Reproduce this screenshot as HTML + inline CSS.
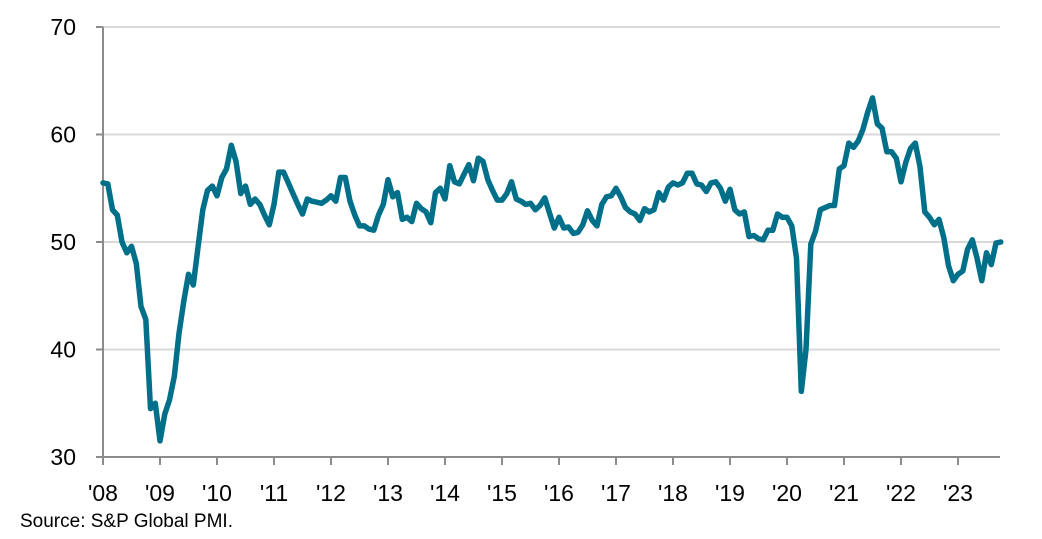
<!DOCTYPE html>
<html><head><meta charset="utf-8"><style>
html,body{margin:0;padding:0;background:#fff;}
svg{display:block;font-family:"Liberation Sans",sans-serif;}
</style></head><body>
<svg width="1042" height="539" id="chart">
<g id="grid"></g>
<g id="axes"></g>
<path id="line" fill="none" stroke="#00708a" stroke-width="5.5" stroke-linejoin="round" stroke-linecap="round"/>
<text x="20" y="527" font-size="19" fill="#000">Source: S&amp;P Global PMI.</text>
</svg>
<script>
const yTicks = [30, 40, 50, 60, 70];
const yearLabels = ["'08","'09","'10","'11","'12","'13","'14","'15","'16","'17","'18","'19","'20","'21","'22","'23"];
const pmi2008 = [55.5,55.4,53,52.5,50,49,49.6,48,44,42.8,34.5,35];
const pmi2009 = [31.5,34,35.3,37.5,41.5,44.5,47,46,49.5,53,54.8,55.2];
const pmi2010 = [54.3,56,56.8,59,57.5,54.5,55.2,53.5,54,53.5,52.5,51.6];
const pmi2011 = [53.5,56.5,56.5,55.5,54.5,53.5,52.6,54,53.8,53.7,53.6,53.9];
const pmi2012 = [54.3,53.8,56,56,53.8,52.5,51.5,51.5,51.2,51.1,52.5,53.5];
const pmi2013 = [55.8,54.2,54.6,52.1,52.3,51.9,53.6,53.1,52.8,51.8,54.6,55];
const pmi2014 = [54,57.1,55.6,55.4,56.3,57.2,55.7,57.8,57.5,55.8,54.8,53.9];
const pmi2015 = [53.9,54.5,55.6,54,53.8,53.5,53.6,53,53.4,54.1,52.7,51.3];
const pmi2016 = [52.3,51.3,51.4,50.8,50.9,51.6,52.9,52,51.5,53.5,54.2,54.3];
const pmi2017 = [55,54.2,53.2,52.8,52.6,52,53.1,52.8,53,54.6,53.9,55.1];
const pmi2018 = [55.5,55.3,55.5,56.4,56.4,55.4,55.3,54.7,55.5,55.6,55,53.8];
const pmi2019 = [54.9,53,52.6,52.8,50.5,50.6,50.3,50.2,51.1,51.1,52.6,52.3];
const pmi2020 = [52.3,51.5,48.5,36.1,40,49.8,51,53,53.2,53.4,53.4,56.8];
const pmi2021 = [57.1,59.2,58.8,59.4,60.5,62.1,63.4,61,60.6,58.4,58.4,57.8];
const pmi2022 = [55.6,57.4,58.7,59.2,57,52.8,52.3,51.6,52.1,50.4,47.8,46.4];
const pmi2023 = [47,47.3,49.3,50.2,48.5,46.4,49,47.9,49.9,50];
const values = [].concat(pmi2008,pmi2009,pmi2010,pmi2011,pmi2012,pmi2013,pmi2014,pmi2015,pmi2016,pmi2017,pmi2018,pmi2019,pmi2020,pmi2021,pmi2022,pmi2023);

const NS = "http://www.w3.org/2000/svg";
const x0 = 103, yearW = 57;
const xS = i => x0 + i * yearW / 12;
const yS = v => 457 - (v - 30) * 10.75;
const grid = document.getElementById('grid');
const axes = document.getElementById('axes');
function mk(tag, attrs, parent){const e=document.createElementNS(NS,tag);for(const k in attrs)e.setAttribute(k,attrs[k]);parent.appendChild(e);return e;}
yTicks.forEach(t => {
  if (t > 30) {
    const g = mk('line',{x1:x0,x2:1000,y1:yS(t),y2:yS(t),stroke:'#d9d9d9','stroke-width':2},grid);
    
    
  }
  const tk = mk('line',{x1:x0-7,x2:x0,y1:yS(t),y2:yS(t),stroke:'#8c8c8c','stroke-width':2},axes);
  
  
  const lb = mk('text',{x:76,y:yS(t)+8,'font-size':23,'text-anchor':'end',fill:'#000'},axes);
  lb.textContent = t;
  
  
});
const ya = mk('line',{x1:x0,x2:x0,y1:yS(70),y2:yS(30)+7,stroke:'#8c8c8c','stroke-width':2},axes);


const xa = mk('line',{x1:x0,x2:1000,y1:yS(30),y2:yS(30),stroke:'#8c8c8c','stroke-width':2},axes);


yearLabels.forEach((l, k) => {
  const x = x0 + k * yearW;
  const tk = mk('line',{x1:x,x2:x,y1:yS(30),y2:yS(30)+8,stroke:'#8c8c8c','stroke-width':2},axes);
  
  
  const lb = mk('text',{x:x,y:501,'font-size':23,'text-anchor':'middle',fill:'#000'},axes);
  lb.textContent = l;
  
  
});
document.getElementById('line').setAttribute('d', values.map((v,i)=>(i?'L':'M')+xS(i).toFixed(1)+','+yS(v).toFixed(1)).join(''));
</script>
</body></html>
